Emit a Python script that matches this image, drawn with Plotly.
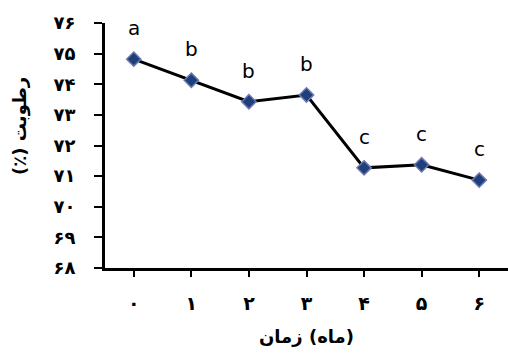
import plotly.graph_objects as go

months = [0, 1, 2, 3, 4, 5, 6]
humidity = [74.82, 74.13, 73.43, 73.65, 71.27, 71.37, 70.87]
letters = ["a", "b", "b", "b", "c", "c", "c"]
x_tick_labels = ["۰", "۱", "۲", "۳", "۴", "۵", "۶"]
y_tick_values = [68, 69, 70, 71, 72, 73, 74, 75, 76]
y_tick_labels = ["۶۸", "۶۹", "۷۰", "۷۱", "۷۲", "۷۳", "۷۴", "۷۵", "۷۶"]
x_title = "\u200eزمان\u200e (ماه)\u200e"
y_title = "\u200e(٪)\u200e رطوبت"

fig = go.Figure()
fig.add_trace(go.Scatter(
    x=months, y=humidity, mode="lines+markers",
    line=dict(color="black", width=3),
    marker=dict(symbol="diamond", size=11, color="#1F3F7A",
                line=dict(color="#6B78B2", width=1.5)),
    showlegend=False,
))

for m, h, t in zip(months, humidity, letters):
    fig.add_annotation(x=m, y=h, text=t, showarrow=False, yanchor="bottom",
                       yshift=17, font=dict(family="DejaVu Sans", size=20, color="black"))

fig.add_annotation(xref="paper", yref="paper", x=0.5, y=0, yanchor="top", yshift=-56,
                   text=x_title, showarrow=False,
                   font=dict(family="DejaVu Sans", size=18, color="black", weight="bold"))
fig.add_annotation(xref="paper", yref="paper", x=0, y=0.58, xanchor="center", xshift=-85,
                   text=y_title, showarrow=False, textangle=-90,
                   font=dict(family="DejaVu Sans", size=18, color="black", weight="bold"))

fig.update_layout(
    width=508, height=358,
    margin=dict(l=105, r=0, t=23, b=90),
    plot_bgcolor="white", paper_bgcolor="white",
    font=dict(family="DejaVu Sans", color="black"),
)
fig.update_xaxes(
    range=[-0.5, 6.5], tickvals=months, ticktext=x_tick_labels,
    showgrid=False, zeroline=False, showline=True, linecolor="black", linewidth=3,
    ticks="outside", ticklen=6, tickwidth=2, tickcolor="black",
    ticklabelstandoff=10,
    tickfont=dict(family="DejaVu Sans", size=19, color="black", weight="bold"),
)
fig.update_yaxes(
    range=[68, 76], tickvals=y_tick_values, ticktext=y_tick_labels,
    showgrid=False, zeroline=False, showline=True, linecolor="black", linewidth=3,
    ticks="outside", ticklen=8, tickwidth=2, tickcolor="black",
    ticklabelstandoff=15,
    tickfont=dict(family="DejaVu Sans", size=18, color="black", weight="bold"),
)

fig.write_html("out.html", config={"displayModeBar": False},
               post_script="document.body.style.margin='0';")
